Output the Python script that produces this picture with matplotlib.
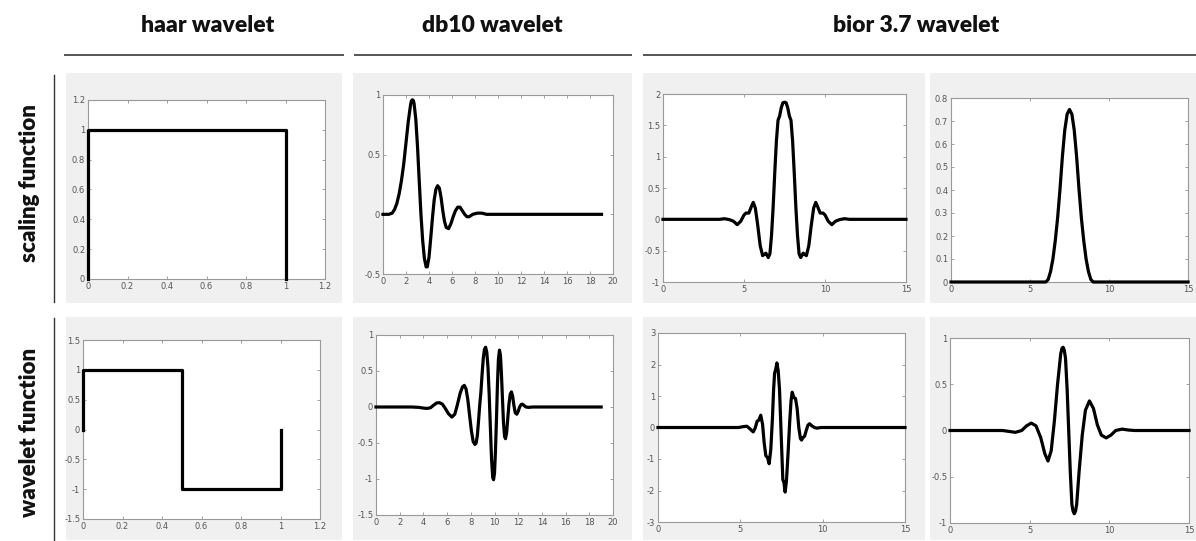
import matplotlib.pyplot as plt
from matplotlib.lines import Line2D
from matplotlib.patches import Rectangle

# haar
haar_phi_x = [0, 0, 1, 1]
haar_phi_y = [0, 1, 1, 0]
haar_psi_x = [0, 0, 0.5, 0.5, 1, 1]
haar_psi_y = [0, 1, 1, -1, -1, 0]

# db10 scaling function
db10_phi_x = [0, 0.5, 0.8, 1.0, 1.2, 1.4, 1.6, 1.8, 2.0, 2.2, 2.4, 2.47, 2.55,
              2.63, 2.7, 2.85, 3.0, 3.15, 3.3, 3.45, 3.6, 3.75, 3.85, 4.0,
              4.15, 4.3, 4.45, 4.6, 4.75, 4.9, 5.05, 5.2, 5.35, 5.5, 5.7, 5.9,
              6.1, 6.3, 6.5, 6.7, 6.9, 7.1, 7.3, 7.5, 7.8, 8.2, 8.6, 9.0, 19.0]
db10_phi_y = [0, 0.0, 0.01, 0.04, 0.09, 0.17, 0.28, 0.42, 0.60, 0.78, 0.92,
              0.95, 0.96, 0.955, 0.93, 0.80, 0.57, 0.28, 0.0, -0.22, -0.37,
              -0.44, -0.44, -0.36, -0.20, -0.03, 0.12, 0.21, 0.24, 0.22, 0.14,
              0.03, -0.06, -0.11, -0.12, -0.08, -0.02, 0.03, 0.06, 0.06, 0.03,
              0.0, -0.02, -0.02, 0.0, 0.01, 0.01, 0.0, 0.0]

# db10 wavelet function
db10_psi_x = [0, 3.0, 3.6, 4.0, 4.3, 4.6, 4.9, 5.1, 5.35, 5.6, 5.85, 6.1, 6.4,
              6.65, 6.85, 7.1, 7.3, 7.45, 7.6, 7.75, 7.9, 8.05, 8.2, 8.35,
              8.45, 8.55, 8.65, 8.75, 8.85, 8.95, 9.05, 9.15, 9.25, 9.35,
              9.45, 9.55, 9.65, 9.75, 9.85, 9.92, 10.0, 10.08, 10.16, 10.25,
              10.33, 10.42, 10.5, 10.58, 10.67, 10.76, 10.85, 10.93, 11.02,
              11.12, 11.22, 11.33, 11.43, 11.53, 11.63, 11.75, 11.88, 12.0,
              12.12, 12.25, 12.36, 12.5, 12.65, 12.9, 13.2, 19.0]
db10_psi_y = [0, 0.0, -0.005, -0.015, -0.02, -0.01, 0.03, 0.055, 0.06, 0.04,
              -0.02, -0.09, -0.14, -0.10, 0.02, 0.19, 0.28, 0.30, 0.25, 0.10,
              -0.12, -0.33, -0.48, -0.52, -0.50, -0.40, -0.20, 0.02, 0.20,
              0.45, 0.67, 0.80, 0.83, 0.76, 0.55, 0.18, -0.28, -0.72, -0.98,
              -1.01, -0.92, -0.62, -0.20, 0.32, 0.66, 0.79, 0.72, 0.48, 0.12,
              -0.22, -0.41, -0.44, -0.36, -0.16, 0.04, 0.18, 0.21, 0.15, 0.03,
              -0.08, -0.10, -0.06, 0.0, 0.035, 0.04, 0.02, 0.0, -0.005, 0.0,
              0.0]

# bior3.7 decomposition scaling function
bior_phi_d_x = [0, 3.5, 3.8, 4.1, 4.35, 4.58, 4.8, 5.0, 5.12, 5.3, 5.45, 5.57,
                5.7, 5.85, 6.0, 6.15, 6.25, 6.35, 6.5, 6.6, 6.7, 6.8, 6.9,
                7.0, 7.1, 7.2, 7.3, 7.4, 7.5, 7.6, 7.7, 7.8, 7.9, 8.0, 8.1,
                8.2, 8.3, 8.4, 8.5, 8.65, 8.75, 8.85, 9.0, 9.15, 9.3, 9.43,
                9.55, 9.7, 9.88, 10.0, 10.2, 10.42, 10.65, 10.9, 11.2, 11.5,
                15.0]
bior_phi_d_y = [0, 0.0, 0.01, -0.005, -0.03, -0.085, -0.03, 0.07, 0.10, 0.10,
                0.20, 0.27, 0.18, -0.10, -0.42, -0.58, -0.56, -0.54, -0.61,
                -0.55, -0.25, 0.20, 0.75, 1.25, 1.58, 1.65, 1.78, 1.86, 1.87,
                1.86, 1.78, 1.65, 1.58, 1.25, 0.75, 0.20, -0.25, -0.55, -0.61,
                -0.54, -0.56, -0.58, -0.42, -0.10, 0.18, 0.27, 0.20, 0.10,
                0.10, 0.07, -0.03, -0.085, -0.03, -0.005, 0.01, 0.0, 0.0]

# bior3.7 reconstruction scaling function
bior_phi_r_x = [0, 6.0, 6.15, 6.3, 6.45, 6.6, 6.75, 6.9, 7.05, 7.2, 7.35, 7.5,
                7.65, 7.8, 7.95, 8.1, 8.25, 8.4, 8.55, 8.7, 8.85, 9.0, 15.0]
bior_phi_r_y = [0, 0.0, 0.011, 0.045, 0.10, 0.18, 0.28, 0.405, 0.545, 0.66,
                0.73, 0.75, 0.73, 0.66, 0.545, 0.405, 0.28, 0.18, 0.10, 0.045,
                0.011, 0.0, 0.0]

# bior3.7 decomposition wavelet function
bior_psi_d_x = [0, 4.9, 5.2, 5.4, 5.6, 5.78, 5.9, 6.02, 6.12, 6.24, 6.35, 6.45,
                6.55, 6.65, 6.75, 6.85, 6.95, 7.02, 7.08, 7.15, 7.22, 7.3,
                7.38, 7.45, 7.52, 7.58, 7.65, 7.72, 7.8, 7.9, 8.0, 8.08, 8.15,
                8.25, 8.35, 8.45, 8.55, 8.65, 8.72, 8.8, 8.9, 9.0, 9.1, 9.2,
                9.35, 9.5, 9.65, 9.9, 15.0]
bior_psi_d_y = [0, 0.0, 0.03, 0.04, -0.05, -0.14, -0.02, 0.20, 0.23, 0.39, 0.10,
                -0.50, -0.90, -0.95, -1.15, -0.70, 0.30, 1.20, 1.72, 1.85, 2.05,
                1.80, 1.20, 0.20, -0.80, -1.65, -1.75, -2.05, -1.70, -0.80,
                0.20, 0.85, 1.12, 0.95, 0.92, 0.60, 0.0, -0.35, -0.40, -0.32,
                -0.28, -0.10, 0.07, 0.12, 0.05, 0.0, -0.02, 0.0, 0.0]

# bior3.7 reconstruction wavelet function
bior_psi_r_x = [0, 3.3, 3.7, 4.1, 4.5, 4.8, 5.1, 5.4, 5.7, 5.95, 6.15, 6.35,
                6.55, 6.75, 6.95, 7.03, 7.1, 7.17, 7.25, 7.35, 7.45, 7.55,
                7.65, 7.72, 7.8, 7.88, 7.95, 8.1, 8.3, 8.5, 8.75, 9.0, 9.25,
                9.5, 9.8, 10.1, 10.4, 10.8, 11.2, 11.6, 15.0]
bior_psi_r_y = [0, 0.0, -0.01, -0.02, 0.0, 0.05, 0.08, 0.05, -0.08, -0.25,
                -0.33, -0.22, 0.10, 0.50, 0.83, 0.89, 0.90, 0.87, 0.78, 0.45,
                0.0, -0.45, -0.80, -0.87, -0.90, -0.87, -0.80, -0.45, -0.05,
                0.22, 0.32, 0.24, 0.06, -0.05, -0.08, -0.05, 0.0, 0.015, 0.005,
                0.0, 0.0]

col_titles = ["haar wavelet", "db10 wavelet", "bior 3.7 wavelet"]
row_titles = ["scaling function", "wavelet function"]

W, H = 1196, 541
fig = plt.figure(figsize=(W / 100, H / 100), dpi=100)
fig.patch.set_facecolor("white")

def px_rect(l, r, t, b):
    return [l / W, 1 - b / H, (r - l) / W, (b - t) / H]

# grey frame behind each subplot
frames_x = [(66, 342), (353, 632), (643, 925), (930, 1196)]
frames_y = [(73, 303), (317, 540)]
for (t, b) in frames_y:
    for (l, r) in frames_x:
        fig.patches.append(Rectangle((l / W, 1 - b / H), (r - l) / W, (b - t) / H,
                                     transform=fig.transFigure,
                                     facecolor="#f0f0f0", edgecolor="none",
                                     zorder=-5))

panels = [
    (px_rect(88, 325, 100, 279), haar_phi_x, haar_phi_y, (0, 1.2), (0, 1.2),
     [0, 0.2, 0.4, 0.6, 0.8, 1, 1.2], [0, 0.2, 0.4, 0.6, 0.8, 1, 1.2]),
    (px_rect(383, 613, 95, 274), db10_phi_x, db10_phi_y, (0, 20), (-0.5, 1),
     list(range(0, 21, 2)), [-0.5, 0, 0.5, 1]),
    (px_rect(663, 906, 94, 282), bior_phi_d_x, bior_phi_d_y, (0, 15), (-1, 2),
     [0, 5, 10, 15], [-1, -0.5, 0, 0.5, 1, 1.5, 2]),
    (px_rect(951, 1188, 98, 282), bior_phi_r_x, bior_phi_r_y, (0, 15), (0, 0.8),
     [0, 5, 10, 15], [0, 0.1, 0.2, 0.3, 0.4, 0.5, 0.6, 0.7, 0.8]),
    (px_rect(83, 320, 340, 519), haar_psi_x, haar_psi_y, (0, 1.2), (-1.5, 1.5),
     [0, 0.2, 0.4, 0.6, 0.8, 1, 1.2], [-1.5, -1, -0.5, 0, 0.5, 1, 1.5]),
    (px_rect(376, 613, 335, 515), db10_psi_x, db10_psi_y, (0, 20), (-1.5, 1),
     list(range(0, 21, 2)), [-1.5, -1, -0.5, 0, 0.5, 1]),
    (px_rect(658, 905, 333, 522), bior_psi_d_x, bior_psi_d_y, (0, 15), (-3, 3),
     [0, 5, 10, 15], [-3, -2, -1, 0, 1, 2, 3]),
    (px_rect(950, 1189, 338, 523), bior_psi_r_x, bior_psi_r_y, (0, 15), (-1, 1),
     [0, 5, 10, 15], [-1, -0.5, 0, 0.5, 1]),
]

def fmt(v):
    return ("%g" % v)

for rect, xs, ys, xl, yl, xt, yt in panels:
    ax = fig.add_axes(rect, zorder=2)
    ax.plot(xs, ys, color="black", linewidth=2.3, clip_on=False,
            solid_joinstyle="round", zorder=3)
    ax.set_xlim(*xl)
    ax.set_ylim(*yl)
    ax.set_xticks(xt)
    ax.set_yticks(yt)
    ax.set_xticklabels([fmt(v) for v in xt])
    ax.set_yticklabels([fmt(v) for v in yt])
    ax.tick_params(direction="in", top=True, right=True, length=2.5, width=0.6,
                   color="#909090", labelcolor="#555555", labelsize=6, pad=2)
    for s in ax.spines.values():
        s.set_color("#999999")
        s.set_linewidth(0.8)
    ax.set_facecolor("white")

# column headers with rules underneath
title_x = [208, 492, 916]
for t, x in zip(col_titles, title_x):
    fig.text(x / W, 1 - 25 / H, t, ha="center", va="center", fontsize=16.5,
             fontweight="heavy", family="Lato", color="#111111")
for (l, r) in [(65, 343), (355, 631), (644, 1196)]:
    fig.add_artist(Line2D([l / W, r / W], [1 - 55 / H, 1 - 55 / H],
                          transform=fig.transFigure, color="#555555",
                          linewidth=1.4))

# row headers with rules beside them
row_y = [183, 432]
for t, y in zip(row_titles, row_y):
    fig.text(30 / W, 1 - y / H, t, ha="center", va="center", rotation=90,
             fontsize=16, fontweight="heavy", family="Lato", color="#111111")
for (t, b) in [(75, 302), (318, 540)]:
    fig.add_artist(Line2D([54 / W, 54 / W], [1 - t / H, 1 - b / H],
                          transform=fig.transFigure, color="#333333",
                          linewidth=1.0))

fig.savefig("out.png", dpi=100)
